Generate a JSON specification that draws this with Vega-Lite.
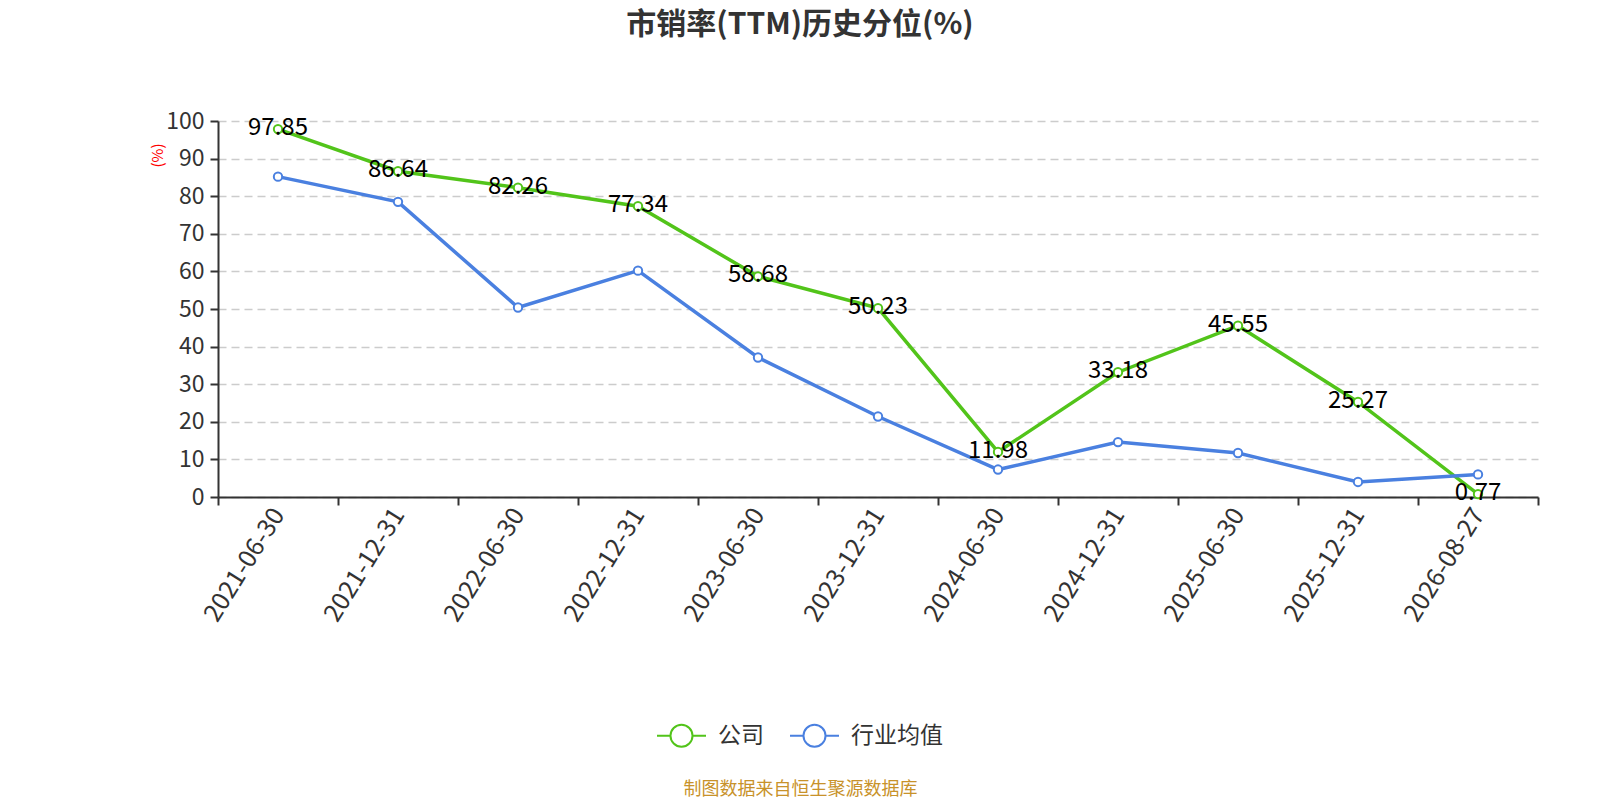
{
  "$schema": "https://vega.github.io/schema/vega-lite/v6.json",
  "autosize": {"type": "none"},
  "padding": {"left": 218, "top": 121, "right": 62, "bottom": 303},
  "width": 1320,
  "height": 376,
  "background": "white",
  "title": {
    "text": "市销率(TTM)历史分位(%)",
    "frame": "group",
    "anchor": "middle",
    "dx": -78,
    "offset": 70,
    "font": "Noto Sans CJK SC",
    "fontSize": 30,
    "fontWeight": "bold",
    "color": "#333333"
  },
  "config": {
    "font": "Noto Sans CJK SC",
    "view": {"stroke": null}
  },
  "data": {
    "values": [
      {"date": "2021-06-30", "series": "公司", "value": 97.85},
      {"date": "2021-12-31", "series": "公司", "value": 86.64},
      {"date": "2022-06-30", "series": "公司", "value": 82.26},
      {"date": "2022-12-31", "series": "公司", "value": 77.34},
      {"date": "2023-06-30", "series": "公司", "value": 58.68},
      {"date": "2023-12-31", "series": "公司", "value": 50.23},
      {"date": "2024-06-30", "series": "公司", "value": 11.98},
      {"date": "2024-12-31", "series": "公司", "value": 33.18},
      {"date": "2025-06-30", "series": "公司", "value": 45.55},
      {"date": "2025-12-31", "series": "公司", "value": 25.27},
      {"date": "2026-08-27", "series": "公司", "value": 0.77},
      {"date": "2021-06-30", "series": "行业均值", "value": 85.2},
      {"date": "2021-12-31", "series": "行业均值", "value": 78.5},
      {"date": "2022-06-30", "series": "行业均值", "value": 50.4},
      {"date": "2022-12-31", "series": "行业均值", "value": 60.2},
      {"date": "2023-06-30", "series": "行业均值", "value": 37.1},
      {"date": "2023-12-31", "series": "行业均值", "value": 21.4},
      {"date": "2024-06-30", "series": "行业均值", "value": 7.3},
      {"date": "2024-12-31", "series": "行业均值", "value": 14.6},
      {"date": "2025-06-30", "series": "行业均值", "value": 11.7},
      {"date": "2025-12-31", "series": "行业均值", "value": 4.0},
      {"date": "2026-08-27", "series": "行业均值", "value": 6.0}
    ]
  },
  "encoding": {
    "x": {
      "field": "date",
      "type": "nominal",
      "sort": null,
      "scale": {"type": "band", "paddingInner": 0, "paddingOuter": 0},
      "axis": {
        "title": "制图数据来自恒生聚源数据库",
        "titleX": 582,
        "titleY": 292,
        "titleAlign": "center",
        "titleBaseline": "middle",
        "titleFontSize": 18,
        "titleFontWeight": "normal",
        "titleColor": "#c8922a",
        "tickBand": "extent",
        "domainColor": "#333333",
        "domainWidth": 2,
        "tickColor": "#333333",
        "tickWidth": 2,
        "tickSize": 8,
        "labelAngle": -58,
        "labelFontSize": 25,
        "labelColor": "#333333",
        "labelPadding": 5,
        "grid": false
      }
    },
    "y": {
      "field": "value",
      "type": "quantitative",
      "scale": {"domain": [0, 100], "nice": false},
      "axis": {
        "title": "(%)",
        "titleColor": "#ff0000",
        "titleFontSize": 15,
        "titleFontWeight": "normal",
        "titleAngle": -90,
        "titleX": -61,
        "titleY": 34,
        "titleAlign": "center",
        "titleBaseline": "middle",
        "values": [0, 10, 20, 30, 40, 50, 60, 70, 80, 90, 100],
        "domain": true,
        "domainColor": "#333333",
        "domainWidth": 2,
        "tickColor": "#333333",
        "tickWidth": 2,
        "tickSize": 8,
        "labelFontSize": 23,
        "labelColor": "#333333",
        "labelPadding": 6,
        "grid": true,
        "gridColor": "#cccccc",
        "gridDash": [8, 5],
        "gridWidth": 1.5
      }
    }
  },
  "layer": [
    {
      "mark": {"type": "line", "strokeWidth": 3.5},
      "encoding": {
        "color": {
          "field": "series",
          "type": "nominal",
          "scale": {"domain": ["公司", "行业均值"], "range": ["#52c41a", "#4a80e0"]},
          "legend": {
            "title": null,
            "orient": "none",
            "direction": "horizontal",
            "legendX": 438,
            "legendY": 589,
            "symbolType": "M-1,0H-0.45M0.45,0H1M0.45,0A0.45,0.45,0,1,1,-0.45,0A0.45,0.45,0,1,1,0.45,0Z",
            "symbolSize": 2401,
            "symbolStrokeWidth": 2,
            "symbolFillColor": "white",
            "labelFontSize": 23,
            "labelColor": "#333333",
            "labelOffset": 11,
            "columnPadding": 22
          }
        }
      }
    },
    {
      "mark": {"type": "point", "shape": "circle", "filled": true, "fill": "white", "size": 70, "strokeWidth": 2, "opacity": 1},
      "encoding": {
        "stroke": {"field": "series", "type": "nominal", "scale": {"domain": ["公司", "行业均值"], "range": ["#52c41a", "#4a80e0"]}, "legend": null}
      }
    },
    {
      "transform": [{"filter": "datum.series === '公司'"}],
      "mark": {"type": "text", "fontSize": 24, "color": "#000000", "baseline": "middle", "dy": -1},
      "encoding": {
        "text": {"field": "value", "type": "quantitative", "format": ".2f"}
      }
    }
  ]
}
